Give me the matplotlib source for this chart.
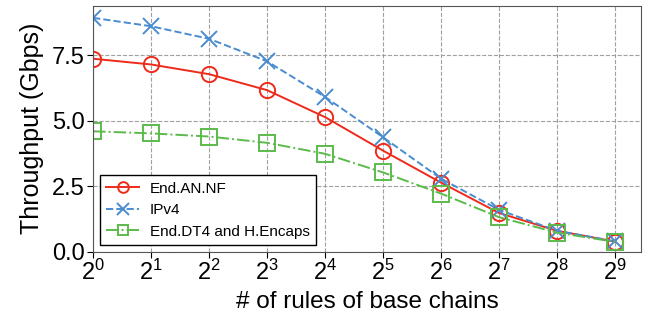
import matplotlib
matplotlib.use("Agg")
import matplotlib.pyplot as plt

plt.rcParams["font.family"] = ["Liberation Sans", "DejaVu Sans"]
plt.rcParams["mathtext.default"] = "regular"

# x = 2^k rules of base chains
exponentes = [0, 1, 2, 3, 4, 5, 6, 7, 8, 9]
regras = [2 ** k for k in exponentes]

end_an_nf = [7.37, 7.15, 6.78, 6.17, 5.14, 3.86, 2.64, 1.48, 0.80, 0.39]
ipv4 = [8.93, 8.61, 8.13, 7.27, 5.91, 4.37, 2.79, 1.60, 0.80, 0.40]
end_dt4 = [4.60, 4.52, 4.40, 4.16, 3.74, 3.03, 2.22, 1.32, 0.73, 0.38]

fig = plt.figure(figsize=(6.51, 3.22), dpi=100)
ax = fig.add_axes([0.143, 0.218, 0.842, 0.764])

ax.plot(regras, end_an_nf, color="#ee2a1b", linestyle="-", linewidth=1.4,
        marker="o", markersize=11, markerfacecolor="none", markeredgewidth=1.4,
        label="End.AN.NF")
ax.plot(regras, ipv4, color="#4a8cd0", linestyle="--", linewidth=1.4,
        marker="x", markersize=12, markeredgewidth=1.4,
        label="IPv4")
ax.plot(regras, end_dt4, color="#5bbb4a", linestyle="-.", linewidth=1.4,
        marker="s", markersize=11, markerfacecolor="none", markeredgewidth=1.4,
        label="End.DT4 and H.Encaps")

ax.set_xscale("log", base=2)
ax.set_xticks(regras)
ax.set_xticklabels([f"$2^{{{k}}}$" for k in exponentes])
ax.set_xlim(1, 2 ** 9.45)
ax.set_ylim(0, 9.39)
ax.set_yticks([0.0, 2.5, 5.0, 7.5])
ax.set_yticklabels(["0.0", "2.5", "5.0", "7.5"])
ax.minorticks_off()
ax.tick_params(labelsize=17, length=4, pad=2)

ax.set_xlabel("# of rules of base chains", fontsize=17.5, labelpad=4)
ax.set_ylabel("Throughput (Gbps)", fontsize=18, labelpad=6)
ax.grid(True, linestyle="--", color="#a0a0a0", linewidth=0.8)
for s in ax.spines.values():
    s.set_color("#555555")

leg = ax.legend(loc="lower left", fontsize=11, fancybox=False,
                edgecolor="black", framealpha=1, borderaxespad=0.45,
                handlelength=2.15, handletextpad=0.7, markerscale=0.7,
                labelspacing=0.5)
leg.get_frame().set_linewidth(1.0)

plt.savefig("out.png", dpi=100)
plt.close()
